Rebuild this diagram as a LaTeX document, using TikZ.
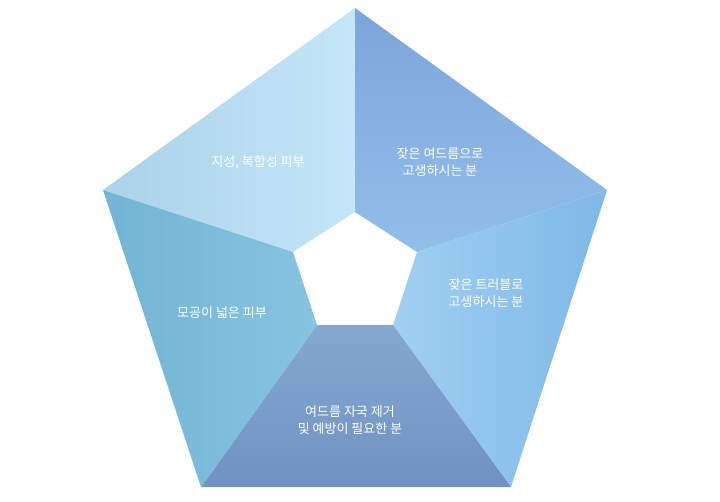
\documentclass[tikz,border=0pt]{standalone}
\usepackage{fontspec}
\newfontfamily\kr{Noto Sans CJK KR}
\definecolor{tlA}{RGB}{170,210,234}\definecolor{tlB}{RGB}{196,230,248}
\definecolor{trA}{RGB}{124,166,218}\definecolor{trB}{RGB}{146,190,234}
\definecolor{rA}{RGB}{160,208,242}\definecolor{rB}{RGB}{126,184,230}
\definecolor{bA}{RGB}{132,168,208}\definecolor{bB}{RGB}{112,146,196}
\definecolor{lA}{RGB}{114,180,212}\definecolor{lB}{RGB}{134,196,224}
\begin{document}
\begin{tikzpicture}[x=1pt,y=-1pt,
  lbl/.style={text=white,font=\kr\fontsize{13}{17}\selectfont,align=center}]
\useasboundingbox (0,0) rectangle (720,501);
\coordinate (T) at (355,8); \coordinate (R) at (607,190); \coordinate (BR) at (511,487);
\coordinate (BL) at (201,487); \coordinate (L) at (103,190);
\coordinate (iT) at (355,212); \coordinate (iR) at (417,252); \coordinate (iBR) at (393,325);
\coordinate (iBL) at (317,325); \coordinate (iL) at (293,252);
\shade[left color=tlA,right color=tlB] (T)--(L)--(iL)--(iT)--cycle;
\shade[top color=trA,bottom color=trB] (R)--(T)--(iT)--(iR)--cycle;
\shade[left color=rA,right color=rB] (BR)--(R)--(iR)--(iBR)--cycle;
\shade[top color=bA,bottom color=bB] (BL)--(BR)--(iBR)--(iBL)--cycle;
\shade[left color=lA,right color=lB] (L)--(BL)--(iBL)--(iL)--cycle;
\node[lbl] (a) at (258,162) {지성, 복합성 피부};
\node[lbl] (b) at (440,162) {잦은 여드름으로\\고생하시는 분};
\node[lbl] (c) at (486,293) {잦은 트러블로\\고생하시는 분};
\node[lbl] (d) at (222,313) {모공이 넓은 피부};
\node[lbl] (e) at (350,420) {여드름 자국 제거\\및 예방이 필요한 분};
\end{tikzpicture}
\end{document}
